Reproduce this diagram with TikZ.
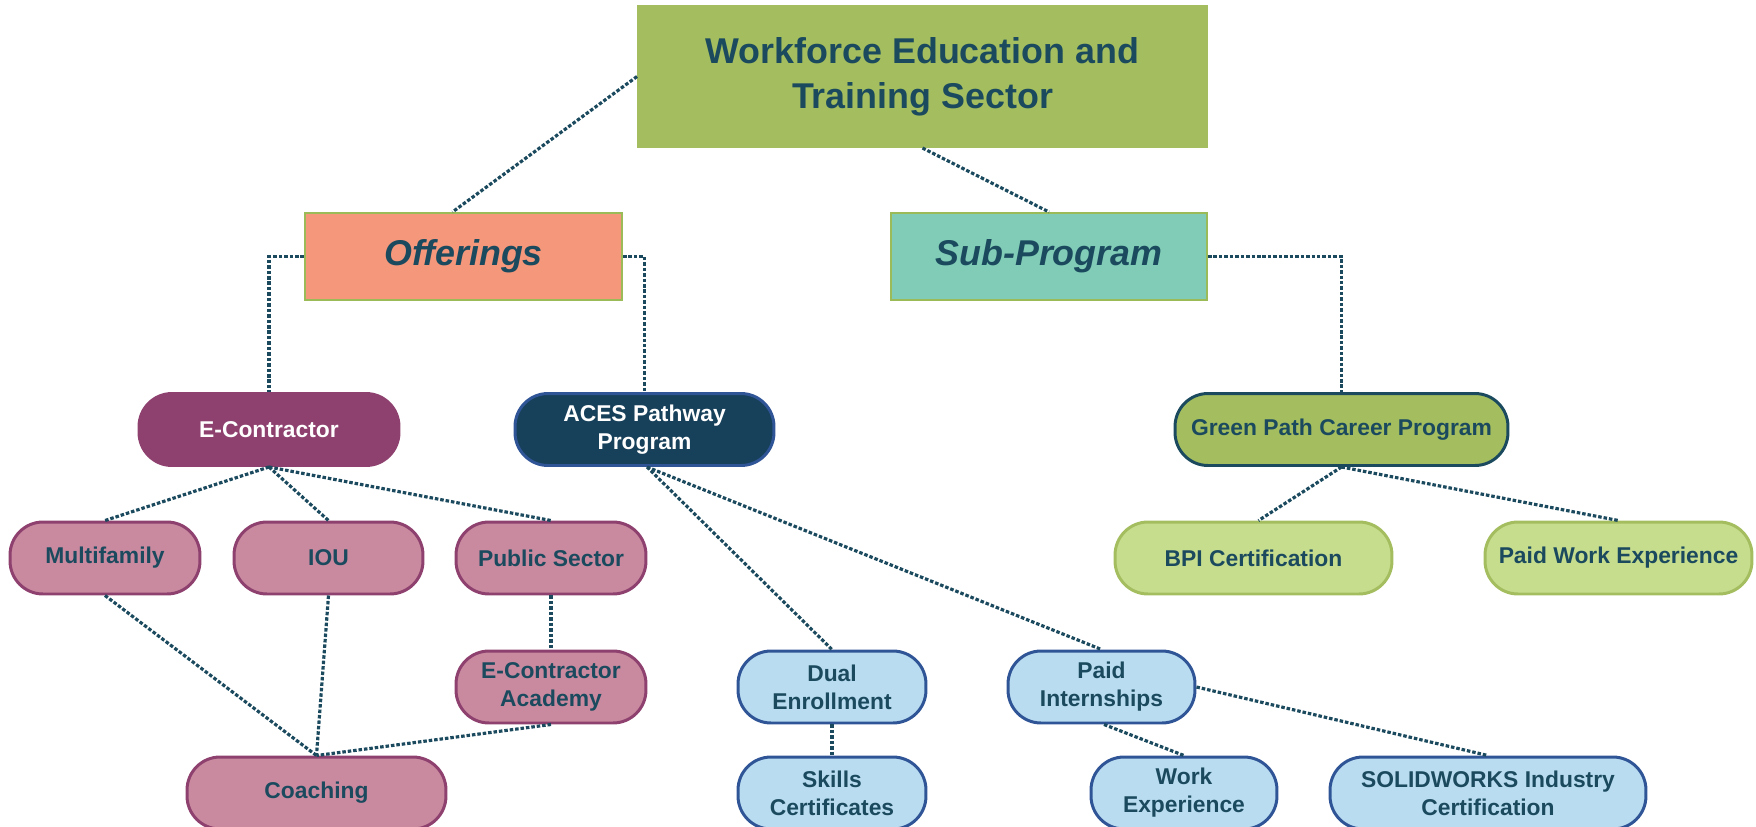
\documentclass[tikz,border=0pt]{standalone}
\usepackage{fontspec}
\setmainfont{Liberation Sans}
\usetikzlibrary{calc}
\definecolor{ink}{HTML}{1B4A5E}
\definecolor{olive}{HTML}{A4BE5F}
\definecolor{oliveline}{HTML}{9BBB59}
\definecolor{salmon}{HTML}{F4977A}
\definecolor{teal}{HTML}{80CCB6}
\definecolor{plum}{HTML}{8E406E}
\definecolor{pinkfill}{HTML}{C98A9F}
\definecolor{navy}{HTML}{17405A}
\definecolor{blueline}{HTML}{2F5597}
\definecolor{lightblue}{HTML}{B9DCF0}
\definecolor{lightgreen}{HTML}{C6DD8E}
\tikzset{
  x=0.02cm, y=-0.02cm,
  headbox/.style={rectangle, draw=oliveline, line width=1.2pt, inner sep=0pt, align=center, text=ink, font=\bfseries\fontsize{20.4}{25.5}\selectfont},
  pill/.style={rectangle, rounded corners=0.66cm, line width=1.7pt, inner sep=0pt, align=center, minimum height=1.44cm, font=\bfseries\fontsize{13}{15.9}\selectfont},
  pinkpill/.style={pill, fill=pinkfill, draw=plum, text=ink},
  bluepill/.style={pill, fill=lightblue, draw=blueline, text=ink},
  greenpill/.style={pill, fill=lightgreen, draw=olive, text=ink},
  link/.style={draw=ink, line width=1.8pt, dash pattern=on 2pt off 1.1pt}
}
\begin{document}
\begin{tikzpicture}
\useasboundingbox (0,0) rectangle (1756,826);
% header boxes
\node[headbox, fill=olive, draw=olive, minimum width=11.38cm, minimum height=2.82cm] (top) at (922.5,76.5) {Workforce Education and\\Training Sector};
\node[headbox, fill=salmon, minimum width=6.34cm, minimum height=1.74cm, font=\bfseries\itshape\fontsize{20.4}{25}\selectfont] (off) at (463.5,256.5) {Offerings};
\node[headbox, fill=teal, minimum width=6.32cm, minimum height=1.74cm, font=\bfseries\itshape\fontsize{20.4}{25}\selectfont] (sub) at (1049,256.5) {Sub-Program};
% level 2
\node[pill, fill=plum, draw=plum, text=white, minimum width=5.2cm] (econ) at (269,429.5) {E-Contractor};
\node[pill, fill=navy, draw=blueline, text=white, minimum width=5.18cm] (aces) at (644.5,429.5) {ACES Pathway\\Program};
\node[pill, fill=olive, draw=ink, text=ink, minimum width=6.66cm] (green) at (1341.5,429.5) {Green Path Career Program};
% level 3
\node[pinkpill, minimum width=3.8cm] (multi) at (105,558) {Multifamily};
\node[pinkpill, minimum width=3.78cm] (iou) at (328.5,558) {IOU};
\node[pinkpill, minimum width=3.8cm] (pub) at (551,558) {Public Sector};
\node[pinkpill, minimum width=3.8cm] (acad) at (551,687) {E-Contractor\\Academy};
\node[pinkpill, minimum width=5.18cm] (coach) at (316.5,793) {Coaching};
\node[bluepill, minimum width=3.76cm] (dual) at (832,687) {Dual\\Enrollment};
\node[bluepill, minimum width=3.76cm] (skills) at (832,793) {Skills\\Certificates};
\node[bluepill, minimum width=3.74cm] (intern) at (1101.5,687) {Paid\\Internships};
\node[bluepill, minimum width=3.72cm] (work) at (1184,793) {Work\\Experience};
\node[bluepill, minimum width=6.32cm] (solid) at (1488,793) {SOLIDWORKS Industry\\Certification};
\node[greenpill, minimum width=5.54cm] (bpi) at (1253.5,558) {BPI Certification};
\node[greenpill, minimum width=5.34cm] (pwe) at (1618.5,558) {Paid Work Experience};
% connectors
\draw[link] (top.west) -- ([xshift=-0.22cm]off.north);
\draw[link] (top.south) -- (sub.north);
\draw[link] (off.west) -- (econ.north |- off.west) -- (econ.north);
\draw[link] (off.east) -- (aces.north |- off.east) -- (aces.north);
\draw[link] (sub.east) -- (green.north |- sub.east) -- (green.north);
\draw[link] (econ.south) -- (multi.north);
\draw[link] (econ.south) -- (iou.north);
\draw[link] (econ.south) -- (pub.north);
\draw[link] (multi.south) -- (coach.north);
\draw[link] (iou.south) -- (coach.north);
\draw[link] (pub.south) -- (acad.north);
\draw[link] (acad.south) -- (coach.north);
\draw[link] ([xshift=0.05cm]aces.south) -- (dual.north);
\draw[link] ([xshift=0.05cm]aces.south) -- (intern.north);
\draw[link] (dual.south) -- (skills.north);
\draw[link] ([xshift=0.05cm]intern.south) -- (work.north);
\draw[link] (intern.east) -- (solid.north);
\draw[link] (green.south) -- ([xshift=0.1cm]bpi.north);
\draw[link] (green.south) -- (pwe.north);
\end{tikzpicture}
\end{document}
